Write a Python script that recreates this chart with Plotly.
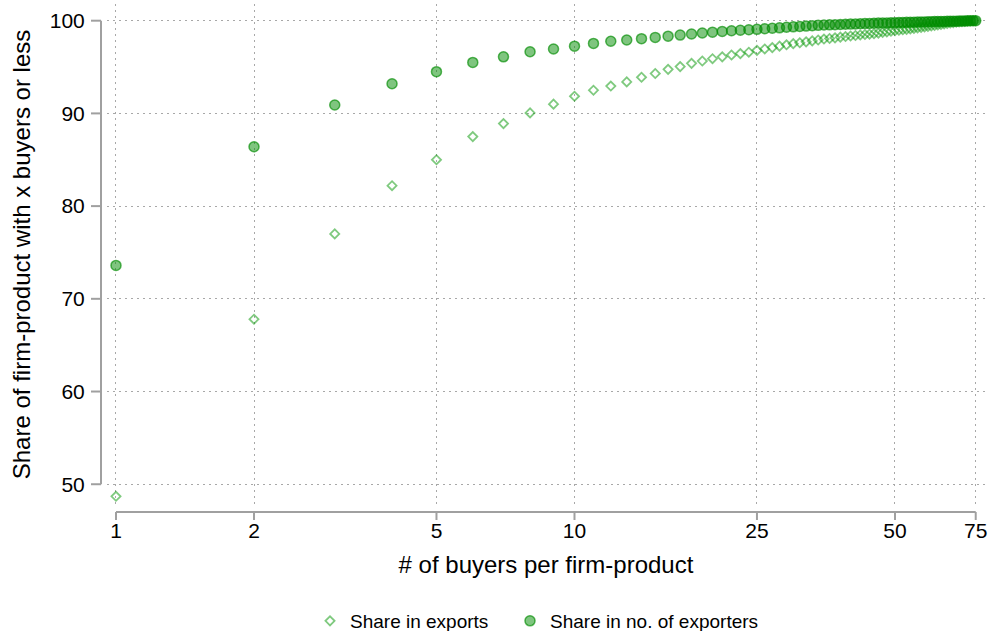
import math
import plotly.graph_objects as go

# Number of buyers per firm-product (1..75)
buyers = list(range(1, 76))

# Cumulative share of exports (value) accounted for by firm-products with x buyers or less
share_exports = [
    48.7, 67.8, 77.0, 82.2, 85.0, 87.5, 88.9, 90.05, 91.0, 91.85,
    92.5, 92.95, 93.4, 93.9, 94.3, 94.75, 95.05, 95.4, 95.65, 95.9,
    96.1, 96.3, 96.45, 96.6, 96.8, 96.95, 97.1, 97.25, 97.4, 97.52,
    97.62, 97.72, 97.82, 97.92, 98.02, 98.08, 98.15, 98.22, 98.29, 98.35,
    98.40, 98.46, 98.51, 98.55, 98.60, 98.66, 98.73, 98.80, 98.86, 98.92,
    98.97, 99.02, 99.07, 99.12, 99.17, 99.22, 99.28, 99.33, 99.38, 99.43,
    99.48, 99.54, 99.60, 99.66, 99.71, 99.75, 99.79, 99.83, 99.86, 99.89,
    99.92, 99.95, 99.97, 99.99, 100.0,
]

# Cumulative share of exporters (count) with x buyers or less
share_exporters = [
    73.6, 86.4, 90.9, 93.2, 94.5, 95.5, 96.1, 96.65, 96.95, 97.25,
    97.55, 97.78, 97.92, 98.06, 98.2, 98.33, 98.45, 98.56, 98.67, 98.76,
    98.84, 98.91, 98.97, 99.02, 99.07, 99.13, 99.18, 99.23, 99.29, 99.34,
    99.38, 99.42, 99.46, 99.50, 99.53, 99.55, 99.57, 99.59, 99.61, 99.63,
    99.65, 99.67, 99.69, 99.71, 99.72, 99.74, 99.75, 99.76, 99.78, 99.79,
    99.80, 99.81, 99.82, 99.83, 99.84, 99.85, 99.86, 99.87, 99.88, 99.89,
    99.90, 99.91, 99.92, 99.92, 99.93, 99.94, 99.95, 99.95, 99.96, 99.97,
    99.97, 99.98, 99.99, 99.99, 100.0,
]

x_ticks = [1, 2, 5, 10, 25, 50, 75]
y_ticks = [50, 60, 70, 80, 90, 100]

X_RANGE = [-0.0196, 1.8953]   # log10 units
Y_RANGE = [47.76, 101.8]

W, H = 989, 631
M_L, M_R, M_T, M_B = 107, 4, 4, 126
PLOT_W = W - M_L - M_R
PLOT_H = H - M_T - M_B

FONT = "Liberation Sans, Arial, sans-serif"
AXIS_GREY = "#a0a0a0"
GRID_GREY = "#a8a8a8"


def x_to_paper(v):
    return (math.log10(v) - X_RANGE[0]) / (X_RANGE[1] - X_RANGE[0])


def y_to_paper(v):
    return (v - Y_RANGE[0]) / (Y_RANGE[1] - Y_RANGE[0])


# axis lines sit a few pixels outside the plot region
X_AXIS_Y = -7 / PLOT_H
X_TICK_END = -15 / PLOT_H
Y_AXIS_X = -6 / PLOT_W
Y_TICK_END = -16 / PLOT_W

fig = go.Figure()

fig.add_trace(go.Scatter(
    x=buyers, y=share_exports, mode="markers", name="Share in exports",
    legend="legend",
    marker=dict(symbol="diamond-open", size=7,
                color="rgba(0,150,0,0.5)",
                line=dict(color="rgba(0,150,0,0.5)", width=1.8)),
))
fig.add_trace(go.Scatter(
    x=buyers, y=share_exporters, mode="markers", name="Share in no. of exporters",
    legend="legend2",
    marker=dict(symbol="circle", size=10,
                color="rgba(0,140,0,0.5)",
                line=dict(color="rgba(0,140,0,0.65)", width=1.5)),
))

shapes = [
    dict(type="line", xref="paper", yref="paper",
         x0=x_to_paper(x_ticks[0]), x1=x_to_paper(x_ticks[-1]),
         y0=X_AXIS_Y, y1=X_AXIS_Y, line=dict(color=AXIS_GREY, width=2)),
    dict(type="line", xref="paper", yref="paper",
         x0=Y_AXIS_X, x1=Y_AXIS_X,
         y0=y_to_paper(y_ticks[0]), y1=y_to_paper(y_ticks[-1]),
         line=dict(color=AXIS_GREY, width=2)),
]
for t in x_ticks:
    xp = x_to_paper(t)
    shapes.append(dict(type="line", xref="paper", yref="paper",
                       x0=xp, x1=xp, y0=X_AXIS_Y, y1=X_TICK_END,
                       line=dict(color=AXIS_GREY, width=2)))
for t in y_ticks:
    yp = y_to_paper(t)
    shapes.append(dict(type="line", xref="paper", yref="paper",
                       x0=Y_AXIS_X, x1=Y_TICK_END, y0=yp, y1=yp,
                       line=dict(color=AXIS_GREY, width=2)))

legend_common = dict(orientation="h", y=-0.2315, yanchor="middle",
                     font=dict(size=19, family=FONT), itemwidth=30,
                     bgcolor="rgba(0,0,0,0)")

fig.update_layout(
    width=W, height=H,
    margin=dict(l=M_L, r=M_R, t=M_T, b=M_B, autoexpand=False),
    paper_bgcolor="white", plot_bgcolor="white",
    font=dict(family=FONT, color="#000000"),
    shapes=shapes,
    showlegend=True,
    legend=dict(x=(310 - M_L) / PLOT_W, xanchor="left", **legend_common),
    legend2=dict(x=(510 - M_L) / PLOT_W, xanchor="left", **legend_common),
    xaxis=dict(
        type="log", range=X_RANGE, automargin=False,
        tickmode="array", tickvals=x_ticks, ticktext=[str(t) for t in x_ticks],
        ticks="outside", ticklen=7, tickcolor="rgba(0,0,0,0)",
        showline=False, zeroline=False,
        showgrid=True, gridcolor=GRID_GREY, gridwidth=1, griddash="2px,4px",
        tickfont=dict(size=21),
        title=dict(text="# of buyers per firm-product", font=dict(size=24), standoff=14),
    ),
    yaxis=dict(
        range=Y_RANGE, automargin=False,
        tickmode="array", tickvals=y_ticks,
        ticks="outside", ticklen=17, tickcolor="rgba(0,0,0,0)",
        showline=False, zeroline=False,
        showgrid=True, gridcolor=GRID_GREY, gridwidth=1, griddash="2px,4px",
        tickfont=dict(size=21),
        title=dict(text="Share of firm-product with x buyers or less", font=dict(size=24), standoff=12),
    ),
)

fig.write_html("out.html")
